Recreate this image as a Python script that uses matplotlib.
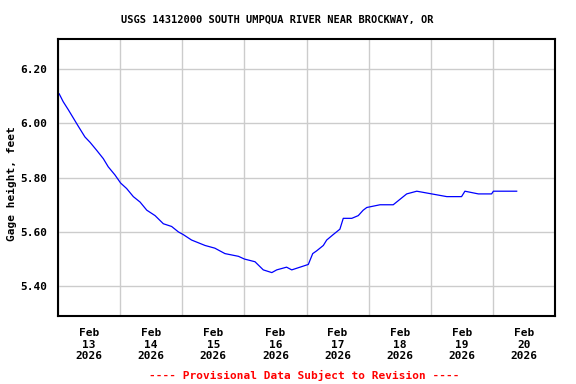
import datetime as dt
import matplotlib
matplotlib.use("Agg")
import matplotlib.pyplot as plt
import matplotlib.dates as mdates

# hours after Feb 13 2026 00:00 and gage height (ft)
hours = [0.0, 0.4, 2.0, 4.0, 5.9, 7.8, 10.4, 12.4, 15.0, 17.5, 19.4, 22.0,
         24.2, 26.5, 29.1, 31.7, 34.3, 37.5, 40.7, 43.9, 46.5, 48.4, 51.6,
         56.8, 60.6, 64.5, 69.7, 72.0, 76.1, 79.3, 82.6, 84.5, 88.3, 90.3,
         93.5, 96.7, 98.4, 99.9, 102.5, 103.8, 106.3, 108.9, 110.2, 113.5,
         116.0, 117.9, 119.3, 124.4, 129.5, 132.1, 134.7, 138.6, 144.4,
         150.2, 155.9, 157.2, 162.4, 167.5, 168.2, 177.2]
gage = [6.11, 6.11, 6.08, 6.05, 6.02, 5.99, 5.95, 5.93, 5.90, 5.87, 5.84, 5.81,
        5.78, 5.76, 5.73, 5.71, 5.68, 5.66, 5.63, 5.62, 5.60, 5.59, 5.57,
        5.55, 5.54, 5.52, 5.51, 5.50, 5.49, 5.46, 5.45, 5.46, 5.47, 5.46,
        5.47, 5.48, 5.52, 5.53, 5.55, 5.57, 5.59, 5.61, 5.65, 5.65,
        5.66, 5.68, 5.69, 5.70, 5.70, 5.72, 5.74, 5.75, 5.74,
        5.73, 5.73, 5.75, 5.74, 5.74, 5.75, 5.75]

yticks = [5.40, 5.60, 5.80, 6.00, 6.20]
start = dt.datetime(2026, 2, 13)
times = [start + dt.timedelta(hours=h) for h in hours]

font = "DejaVu Sans Mono"
fig = plt.figure(figsize=(5.76, 3.84), dpi=100)
ax = fig.add_axes([58 / 576, 1 - 316 / 384, 497 / 576, 277 / 384])

ax.plot(times, gage, color="#0000ff", linewidth=0.9)

ax.set_xlim(start, start + dt.timedelta(days=8))
ax.set_ylim(5.290, 6.311)

# gridlines at midnight, labels at noon
ax.xaxis.set_major_locator(mdates.DayLocator())
ax.xaxis.set_major_formatter(plt.NullFormatter())
ax.xaxis.set_minor_locator(mdates.HourLocator(byhour=[12]))
ax.xaxis.set_minor_formatter(mdates.DateFormatter("%b\n%d\n%Y"))
ax.tick_params(axis="x", which="both", length=0)
ax.tick_params(axis="x", which="minor", pad=9)
for lbl in ax.get_xticklabels(minor=True):
    lbl.set_fontfamily(font)
    lbl.set_fontweight("bold")
    lbl.set_fontsize(8)
    lbl.set_linespacing(1.15)

ax.set_yticks(yticks)
ax.set_yticklabels([f"{v:.2f}" for v in yticks], fontfamily=font,
                   fontweight="bold", fontsize=8)
ax.tick_params(axis="y", length=0, pad=8)

ax.grid(True, which="major", color="#cccccc", linewidth=1.0)
ax.set_axisbelow(True)
for s in ax.spines.values():
    s.set_linewidth(1.5)
    s.set_color("black")

ax.set_ylabel("Gage height, feet", fontfamily=font, fontweight="bold",
              fontsize=8, va="center")
ax.yaxis.set_label_coords(-0.092, 0.478)

fig.text(277 / 576, 1 - 20 / 384, "USGS 14312000 SOUTH UMPQUA RIVER NEAR BROCKWAY, OR",
         ha="center", va="center", fontfamily=font, fontweight="bold", fontsize=7.5)
fig.text(304 / 576, 1 - 375 / 384, "---- Provisional Data Subject to Revision ----",
         ha="center", va="center", color="red", fontfamily=font,
         fontweight="bold", fontsize=8)

fig.savefig("out.png", dpi=100)
